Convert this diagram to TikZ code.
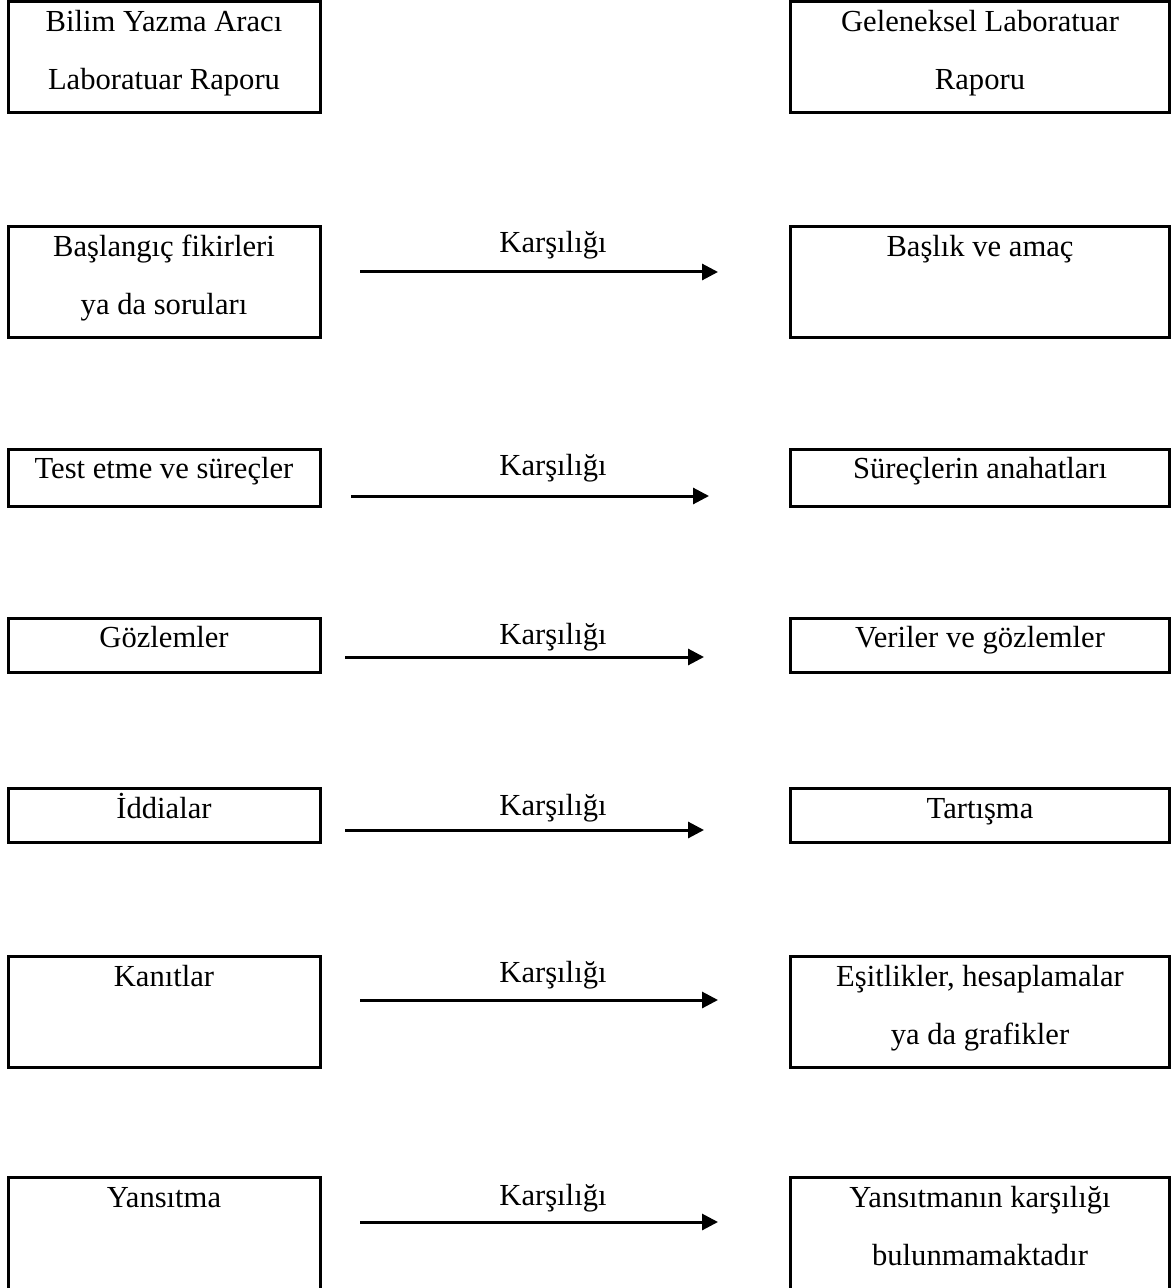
\documentclass[tikz,border=0pt]{standalone}
\usepackage{fontspec}
\setmainfont{Liberation Serif}
\usetikzlibrary{arrows.meta,fit}
\begin{document}
\begin{tikzpicture}[x=0.5pt,y=-0.5pt,
  box/.style={draw, line width=1.5pt, inner sep=0pt},
  txt/.style={anchor=base, inner sep=0pt, font=\fontsize{15.3}{18}\selectfont},
  arr/.style={line width=1.5pt, -{Triangle[length=8pt,width=8pt]}}]
\useasboundingbox (0,0) rectangle (1171,1288);
% row 1
\node[box, fit={(8,2)(320,113)}] (L1) {};
\node[box, fit={(790,2)(1169.5,113)}] (R1) {};
\node[txt] (L1a) at (164,32) {Bilim Yazma Aracı};
\node[txt] (L1b) at (164,90) {Laboratuar Raporu};
\node[txt] (R1a) at (980,32) {Geleneksel Laboratuar};
\node[txt] (R1b) at (980,90) {Raporu};
% row 2
\node[box, fit={(8,227)(320,338)}] (L2) {};
\node[box, fit={(790,227)(1169.5,338)}] (R2) {};
\node[txt] (L2a) at (164,257) {Başlangıç fikirleri};
\node[txt] (L2b) at (164,315) {ya da soruları};
\node[txt] (R2a) at (980,257) {Başlık ve amaç};
\node[txt] (K2) at (553,253) {Karşılığı};
\coordinate (s2) at (360,272); \coordinate (e2) at (718,272);
\draw[arr] (s2) -- (e2);
% row 3
\node[box, fit={(8,449)(320,506)}] (L3) {};
\node[box, fit={(790,449)(1169.5,506)}] (R3) {};
\node[txt] (L3a) at (164,478) {Test etme ve süreçler};
\node[txt] (R3a) at (980,478) {Süreçlerin anahatları};
\node[txt] (K3) at (553,475) {Karşılığı};
\coordinate (s3) at (351,496); \coordinate (e3) at (709,496);
\draw[arr] (s3) -- (e3);
% row 4
\node[box, fit={(8,618)(320,672)}] (L4) {};
\node[box, fit={(790,618)(1169.5,672)}] (R4) {};
\node[txt] (L4a) at (164,647) {Gözlemler};
\node[txt] (R4a) at (980,647) {Veriler ve gözlemler};
\node[txt] (K4) at (553,644) {Karşılığı};
\coordinate (s4) at (345,657); \coordinate (e4) at (704,657);
\draw[arr] (s4) -- (e4);
% row 5
\node[box, fit={(8,788)(320,842)}] (L5) {};
\node[box, fit={(790,788)(1169.5,842)}] (R5) {};
\node[txt] (L5a) at (164,818) {İddialar};
\node[txt] (R5a) at (980,818) {Tartışma};
\node[txt] (K5) at (553,815) {Karşılığı};
\coordinate (s5) at (345,830); \coordinate (e5) at (704,830);
\draw[arr] (s5) -- (e5);
% row 6
\node[box, fit={(8,956)(320,1067)}] (L6) {};
\node[box, fit={(790,956)(1169.5,1067)}] (R6) {};
\node[txt] (L6a) at (164,986) {Kanıtlar};
\node[txt] (R6a) at (980,986) {Eşitlikler, hesaplamalar};
\node[txt] (R6b) at (980,1044) {ya da grafikler};
\node[txt] (K6) at (553,982) {Karşılığı};
\coordinate (s6) at (360,1000); \coordinate (e6) at (718,1000);
\draw[arr] (s6) -- (e6);
% row 7
\node[box, fit={(8,1177)(320,1294)}] (L7) {};
\node[box, fit={(790,1177)(1169.5,1294)}] (R7) {};
\node[txt] (L7a) at (164,1207) {Yansıtma};
\node[txt] (R7a) at (980,1207) {Yansıtmanın karşılığı};
\node[txt] (R7b) at (980,1265) {bulunmamaktadır};
\node[txt] (K7) at (553,1205) {Karşılığı};
\coordinate (s7) at (360,1222); \coordinate (e7) at (718,1222);
\draw[arr] (s7) -- (e7);
\end{tikzpicture}
\end{document}
